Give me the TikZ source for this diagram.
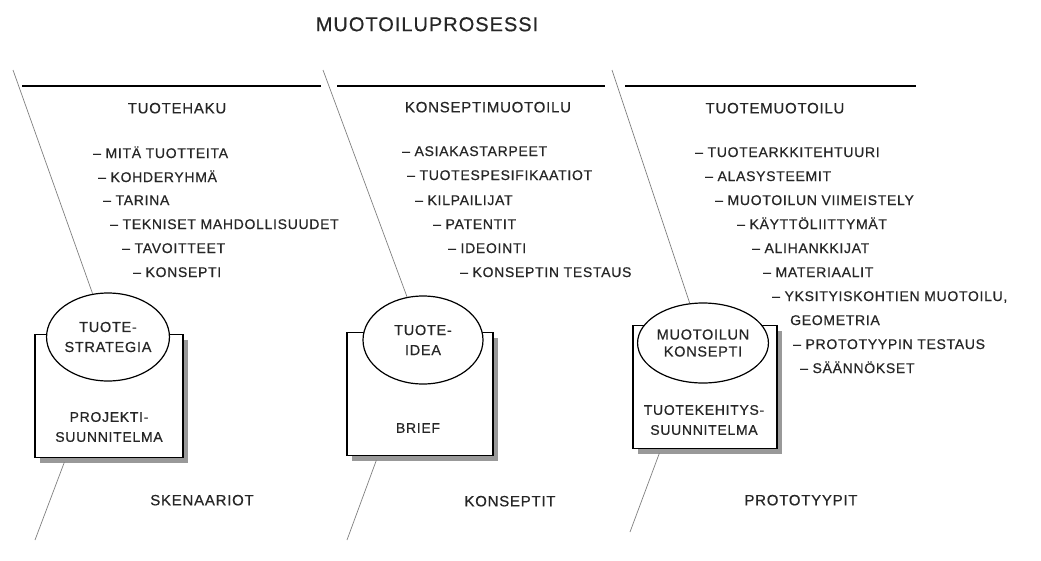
\documentclass[tikz,border=0pt]{standalone}
\usepackage{fontspec}
\setmainfont{Liberation Sans}[LetterSpace=5,FakeBold=0.5]
\usetikzlibrary{shapes.geometric,shadows}
\tikzset{
  item/.style={anchor=west,inner sep=0pt,text=black!85,font=\fontsize{14}{16}\selectfont,text height=10pt,text depth=0pt},
  head/.style={inner sep=0pt,text=black!85,font=\fontsize{15}{18}\selectfont,text height=10.7pt,text depth=0pt},
  bubble/.style={ellipse,draw,line width=1.2pt,fill=white,minimum width=120pt,minimum height=88pt,inner sep=0pt,align=center,text=black!85,font=\fontsize{14.5}{20}\selectfont},
  card/.style={draw,line width=1.2pt,fill=white,minimum width=148pt,minimum height=123pt,inner sep=0pt,drop shadow={shadow xshift=5pt,shadow yshift=-5pt,fill=black!50,opacity=.8}},
  cardtext/.style={inner sep=0pt,align=center,text=black!85,font=\fontsize{14}{20}\selectfont},
  slant/.style={draw=black!50,line width=0.7pt},
  rule/.style={line width=1.5pt}
}
\begin{document}
\begin{tikzpicture}[x=1pt,y=-1pt]
\useasboundingbox[fill=white](0,0) rectangle (1041,560);
\node[inner sep=0pt,text=black!85,font=\fontsize{20}{24}\selectfont,text height=14.3pt,text depth=0pt] (title) at (427,24) {MUOTOILUPROSESSI};
% top rules
\draw[rule](22,86)--(321,86);
\draw[rule](337,86)--(605,86);
\draw[rule](625,86)--(916,86);
% phase headings
\node[head] (haku) at (177,108) {TUOTEHAKU};
\node[head] (konsepti) at (488,107) {KONSEPTIMUOTOILU};
\node[head] (muotoilu) at (775,108) {TUOTEMUOTOILU};
% tuotehaku
\node[item] (h1) at (93,153) {– MITÄ TUOTTEITA};
\node[item] (h2) at (98,177) {– KOHDERYHMÄ};
\node[item] (h3) at (103,200) {– TARINA};
\node[item] (h4) at (110,224) {– TEKNISET MAHDOLLISUUDET};
\node[item] (h5) at (122,248) {– TAVOITTEET};
\node[item] (h6) at (133,272) {– KONSEPTI};
% konseptimuotoilu
\node[item] (k1) at (402,151) {– ASIAKASTARPEET};
\node[item] (k2) at (407,175) {– TUOTESPESIFIKAATIOT};
\node[item] (k3) at (415,200) {– KILPAILIJAT};
\node[item] (k4) at (433,224) {– PATENTIT};
\node[item] (k5) at (448,248) {– IDEOINTI};
\node[item] (k6) at (460,272) {– KONSEPTIN TESTAUS};
% tuotemuotoilu
\node[item] (m1) at (695,152) {– TUOTEARKKITEHTUURI};
\node[item] (m2) at (705,176) {– ALASYSTEEMIT};
\node[item] (m3) at (715,200) {– MUOTOILUN VIIMEISTELY};
\node[item] (m4) at (737,224) {– KÄYTTÖLIITTYMÄT};
\node[item] (m5) at (752,248) {– ALIHANKKIJAT};
\node[item] (m6) at (763,272) {– MATERIAALIT};
\node[item] (m7) at (772,296) {– YKSITYISKOHTIEN MUOTOILU,};
\node[item] (m8) at (790,320) {GEOMETRIA};
\node[item] (m9) at (793,344) {– PROTOTYYPIN TESTAUS};
\node[item] (m10) at (800,368) {– SÄÄNNÖKSET};
% boxes
\node[card] (box1) at (109,396) {};
\node[card,minimum width=146pt] (box2) at (420,394) {};
\node[card,minimum width=144pt] (box3) at (705,387) {};
\node[cardtext] (p1) at (109,427) {PROJEKTI-\\SUUNNITELMA};
\node[cardtext] (p2) at (418,428) {BRIEF};
\node[cardtext] (p3) at (704,420) {TUOTEKEHITYS-\\SUUNNITELMA};
% ovals
\node[bubble] (oval1) at (108,337) {TUOTE-\\STRATEGIA};
\node[bubble] (oval2) at (423,340) {TUOTE-\\IDEA};
\node[bubble,minimum width=122pt,minimum height=80pt,font=\fontsize{14.5}{17}\selectfont] (oval3) at (703,343) {MUOTOILUN\\KONSEPTI};
% slanted lines
\coordinate (s1) at (13,70);
\coordinate (s2) at (323,70);
\coordinate (s3) at (612,70);
\coordinate (u1) at (35,540);
\coordinate (u2) at (347,540);
\coordinate (u3) at (630,532);
\draw[slant](s1)--(oval1);
\draw[slant](s2)--(oval2);
\draw[slant](s3)--(oval3);
\draw[slant]([xshift=30pt,yshift=-4pt]box1.south west)--(u1);
\draw[slant]([xshift=30pt,yshift=-4pt]box2.south west)--(u2);
\draw[slant]([xshift=27pt,yshift=-4pt]box3.south west)--(u3);
% results
\node[head] (skenaariot) at (202,500) {SKENAARIOT};
\node[head] (konseptit) at (510,501) {KONSEPTIT};
\node[head] (prototyypit) at (801,500) {PROTOTYYPIT};
\end{tikzpicture}
\end{document}
